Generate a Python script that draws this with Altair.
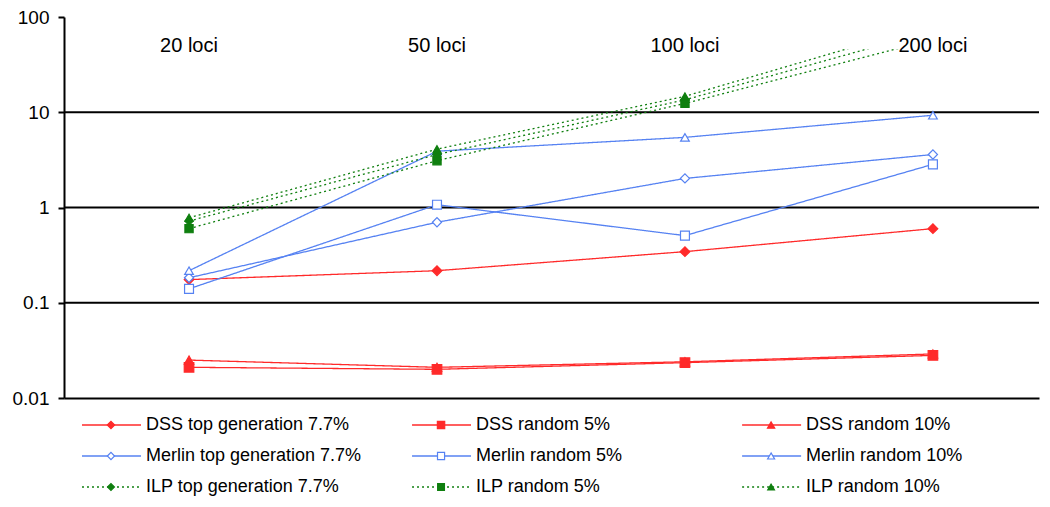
import altair as alt
import pandas as pd

loci = ["20 loci", "50 loci", "100 loci", "200 loci"]
methods = ["DSS", "Merlin", "ILP"]
variants = ["top generation 7.7%", "random 5%", "random 10%"]

dss_top = [0.175, 0.217, 0.344, 0.60]
dss_r5 = [0.021, 0.020, 0.0235, 0.028]
dss_r10 = [0.025, 0.021, 0.024, 0.029]
merlin_top = [0.183, 0.70, 2.02, 3.6]
merlin_r5 = [0.14, 1.07, 0.507, 2.84]
merlin_r10 = [0.217, 3.9, 5.45, 9.3]
ilp_top = [0.72, 3.6, 13.5, 72]
ilp_r5 = [0.60, 3.1, 12.4, 58]
ilp_r10 = [0.78, 4.1, 14.7, 85]

y_ticks = [0.01, 0.1, 1, 10, 100]
grid_values = [0.1, 1, 10]
label_band = [46, 100]
label_level = 50

method_colors = ["#ff2a2a", "#5682f2", "#0f7f0f"]
method_dashes = [[1, 0], [1, 0], [2, 3]]
method_widths = [1.3, 1.3, 1.9]
method_fills = ["#ff2a2a", "#ffffff", "#0f7f0f"]
variant_shapes = ["diamond", "square", "triangle-up"]
variant_sizes = [95, 64, 95]
legend_sizes = [55, 45, 60]

series_values = {
    ("DSS", variants[0]): dss_top,
    ("DSS", variants[1]): dss_r5,
    ("DSS", variants[2]): dss_r10,
    ("Merlin", variants[0]): merlin_top,
    ("Merlin", variants[1]): merlin_r5,
    ("Merlin", variants[2]): merlin_r10,
    ("ILP", variants[0]): ilp_top,
    ("ILP", variants[1]): ilp_r5,
    ("ILP", variants[2]): ilp_r10,
}

names, colors, dashes, widths, fills, shapes, sizes, lsizes = [], [], [], [], [], [], [], []
rows = []
legend_rows = []
for mi, m in enumerate(methods):
    for vi, v in enumerate(variants):
        name = f"{m} {v}"
        names.append(name)
        colors.append(method_colors[mi])
        dashes.append(method_dashes[mi])
        widths.append(method_widths[mi])
        fills.append(method_fills[mi])
        shapes.append(variant_shapes[vi])
        sizes.append(variant_sizes[vi])
        lsizes.append(legend_sizes[vi])
        for li, val in zip(loci, series_values[(m, v)]):
            rows.append({"loci": li, "value": val, "series": name})
        legend_rows.append({"series": name, "label": name, "col": vi, "row": mi})

df = pd.DataFrame(rows)
legend_df = pd.DataFrame(legend_rows)
grid_df = pd.DataFrame({"value": grid_values})
band_df = pd.DataFrame({"value": [label_band[0]], "value2": [label_band[1]]})
label_df = pd.DataFrame({"loci": loci, "value": [label_level] * len(loci)})

FONT = "Liberation Sans"

x_enc = alt.X(
    "loci:N", sort=loci,
    scale=alt.Scale(type="point", padding=0.466, align=0.541),
    axis=alt.Axis(title=None, labels=False, ticks=False, grid=False,
                  domainColor="black", domainWidth=2, zindex=1),
)
y_enc = alt.Y(
    "value:Q",
    scale=alt.Scale(type="log", domain=[0.01, 100], nice=False),
    axis=alt.Axis(title=None, values=y_ticks, format="~g", grid=False,
                  domainColor="black", domainWidth=2, tickColor="black",
                  tickWidth=2, tickSize=6, labelFontSize=19, labelPadding=9,
                  labelColor="black", labelFont=FONT, minExtent=56,
                  maxExtent=56, zindex=1),
)

color_s = alt.Scale(domain=names, range=colors)
fill_s = alt.Scale(domain=names, range=fills)
dash_s = alt.Scale(domain=names, range=dashes)
shape_s = alt.Scale(domain=names, range=shapes)
width_s = alt.Scale(domain=names, range=widths)

grid = alt.Chart(grid_df).mark_rule(color="black", strokeWidth=2).encode(y=y_enc)

lines = alt.Chart(df).mark_line().encode(
    x=x_enc, y=y_enc,
    color=alt.Color("series:N", scale=color_s, legend=None),
    strokeDash=alt.StrokeDash("series:N", scale=dash_s, legend=None),
    strokeWidth=alt.StrokeWidth("series:N", scale=width_s, legend=None),
)

points = alt.Chart(df).mark_point(filled=True, strokeWidth=1.2, opacity=1).encode(
    x=x_enc, y=y_enc,
    shape=alt.Shape("series:N", scale=shape_s, legend=None),
    fill=alt.Fill("series:N", scale=fill_s, legend=None),
    stroke=alt.Stroke("series:N", scale=color_s, legend=None),
    size=alt.Size("series:N", scale=alt.Scale(domain=names, range=sizes), legend=None),
)

band = alt.Chart(band_df).mark_rect(color="white").encode(y=y_enc, y2="value2:Q")

labels = alt.Chart(label_df).mark_text(
    fontSize=20, font=FONT, color="black", baseline="middle", align="center"
).encode(x=x_enc, y=y_enc, text="loci:N")

main = alt.layer(grid, lines, points, band, labels).properties(width=975, height=381)

xl = alt.X("col:N", scale=alt.Scale(type="point", padding=0.477, align=0.0571), axis=None)
yl = alt.Y("row:N", scale=alt.Scale(type="point", padding=0.516), axis=None)

leg_base = alt.Chart(legend_df)
leg_lines = leg_base.mark_rule(x2Offset=59).encode(
    x=xl, x2=alt.X2("col:N"), y=yl,
    color=alt.Color("series:N", scale=color_s, legend=None),
    strokeDash=alt.StrokeDash("series:N", scale=dash_s, legend=None),
    strokeWidth=alt.StrokeWidth("series:N", scale=width_s, legend=None),
)
leg_points = leg_base.mark_point(filled=True, xOffset=29, strokeWidth=1.2, opacity=1).encode(
    x=xl, y=yl,
    shape=alt.Shape("series:N", scale=shape_s, legend=None),
    fill=alt.Fill("series:N", scale=fill_s, legend=None),
    stroke=alt.Stroke("series:N", scale=color_s, legend=None),
    size=alt.Size("series:N", scale=alt.Scale(domain=names, range=lsizes), legend=None),
)
leg_text = leg_base.mark_text(
    align="left", dx=64, fontSize=18, font=FONT, color="black", baseline="middle"
).encode(x=xl, y=yl, text="label:N")

legend = alt.layer(leg_lines, leg_points, leg_text).properties(width=975, height=94)

chart = alt.vconcat(main, legend, spacing=1).resolve_scale(
    x="independent", y="independent", size="independent"
).configure_view(stroke=None).properties(
    padding={"left": 0, "top": 0, "right": 0, "bottom": 0}
)

chart.save("out.html", embed_options={"renderer": "svg", "actions": False})
